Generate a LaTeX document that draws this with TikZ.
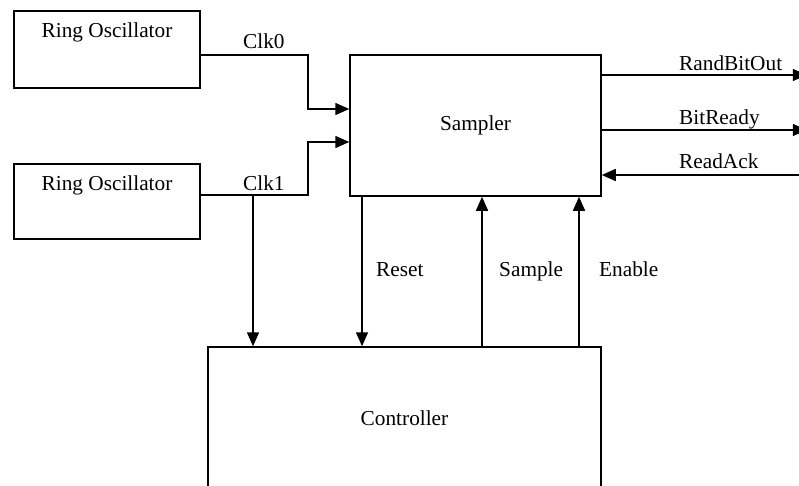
\documentclass[tikz,border=0pt]{standalone}
\usepackage{fontspec}
\setmainfont{Liberation Serif}
\usetikzlibrary{arrows.meta,positioning,calc}

\begin{document}
\begin{tikzpicture}[
    x=1pt, y=-1pt,
    >={Triangle[length=14pt,width=12pt]},
    font=\fontsize{21.3}{25}\selectfont,
    block/.style={draw, line width=1.5pt, inner sep=0pt},
    sig/.style={->, line width=1.5pt},
    lbl/.style={anchor=base west, inner sep=0pt}
]
\clip (0,0) rectangle (799,486);
\fill[white] (0,0) rectangle (799,486);

% blocks
\node[block, minimum width=186pt, minimum height=77pt,
      label={[anchor=base, yshift=-27.5pt]north:Ring Oscillator}] (ro0) at (107,49.5) {};
\node[block, minimum width=186pt, minimum height=75pt,
      label={[anchor=base, yshift=-27pt]north:Ring Oscillator}] (ro1) at (107,201.5) {};
\node[block, minimum width=251pt, minimum height=141pt] (sampler) at (475.5,125.5) {Sampler};
\node[block, minimum width=393pt, minimum height=142pt] (ctrl) at (404.5,418) {Controller};

% tap points
\coordinate (clk1tap) at (253,195);
\coordinate (rst) at ([xshift=-113.5pt]sampler.south);
\coordinate (smp) at ([xshift=6.5pt]sampler.south);
\coordinate (ena) at ([xshift=103.5pt]sampler.south);

% clocks
\draw[sig] ([yshift=-5.5pt]ro0.east) -- ++(107,0) |- ([yshift=16.5pt]sampler.west);
\draw[sig] ([yshift=6.5pt]ro1.east) -- ++(107,0) |- ([yshift=-16.5pt]sampler.west);
\draw[sig] (clk1tap) -- (clk1tap |- ctrl.north);

% outputs
\draw[sig] ([yshift=50.5pt]sampler.east) -- ++(205,0);
\draw[sig] ([yshift=-4.5pt]sampler.east) -- ++(205,0);
\draw[sig] ([yshift=-49.5pt]sampler.east) ++(205,0) -- ([yshift=-49.5pt]sampler.east);

% control lines
\draw[sig] (rst) -- (rst |- ctrl.north);
\draw[sig] (smp |- ctrl.north) -- (smp);
\draw[sig] (ena |- ctrl.north) -- (ena);

% labels
\node[lbl] (clk0lbl) at (243,49) {Clk0};
\node[lbl] (clk1lbl) at (243,190) {Clk1};
\node[lbl] (outlbl) at (679,70.5) {RandBitOut};
\node[lbl] (rdylbl) at (679,125) {BitReady};
\node[lbl] (acklbl) at (679,169) {ReadAck};
\node[lbl] (rstlbl) at (376,276.5) {Reset};
\node[lbl] (smplbl) at (499,276.5) {Sample};
\node[lbl] (enalbl) at (599,276.5) {Enable};
\end{tikzpicture}
\end{document}
